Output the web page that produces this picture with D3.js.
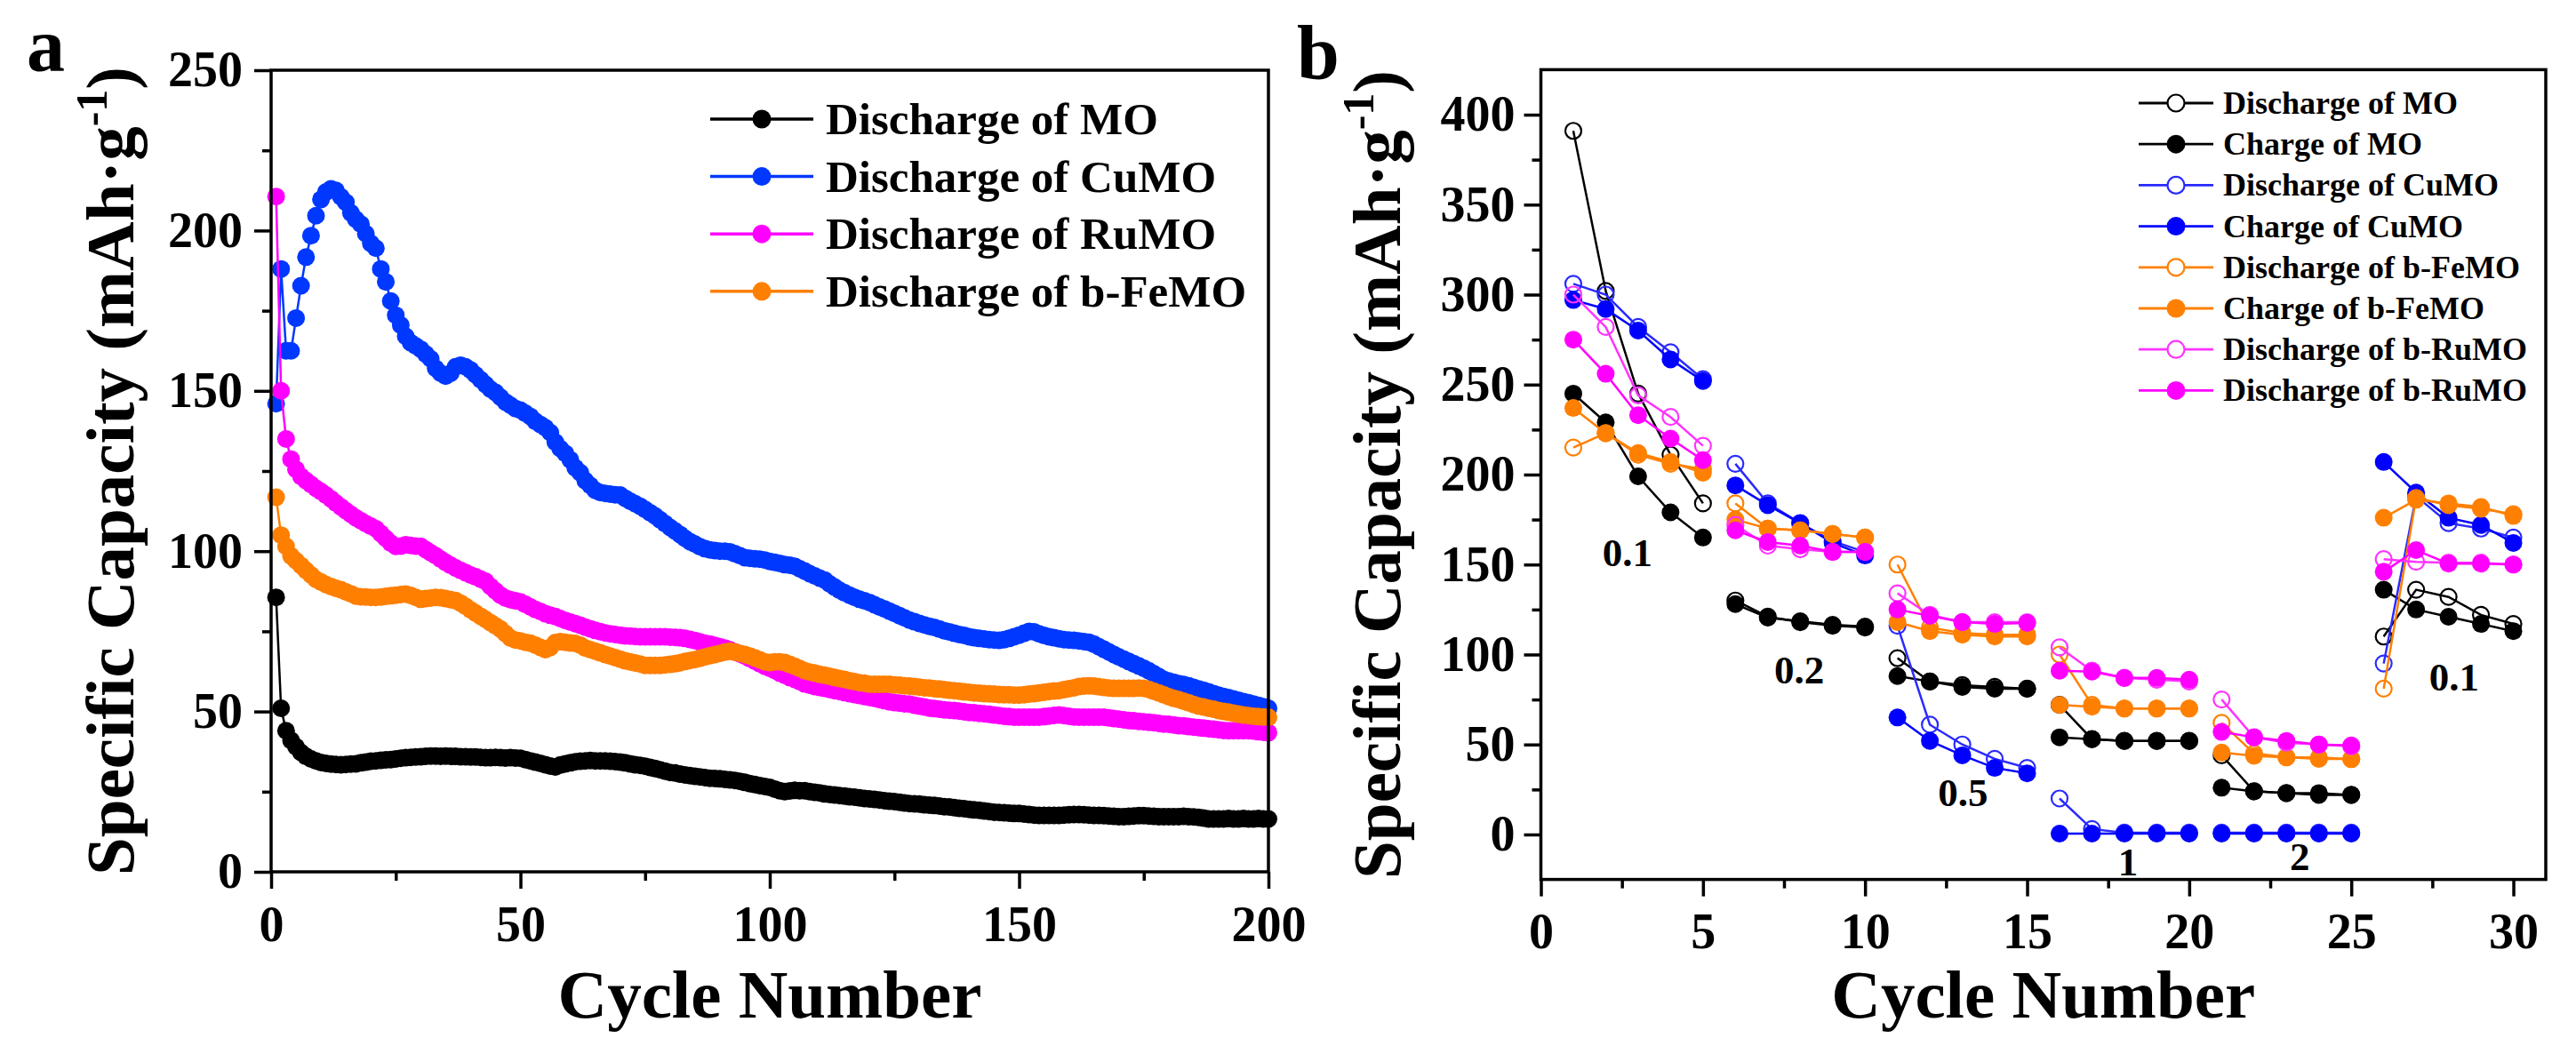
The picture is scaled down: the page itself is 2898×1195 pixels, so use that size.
<!DOCTYPE html>
<html>
<head>
<meta charset="utf-8">
<script src="https://cdn.jsdelivr.net/npm/d3@7"></script>
<style>
  html, body { margin: 0; padding: 0; background: #fff; }
  svg text { font-family: "Liberation Serif", "Times New Roman", serif; font-weight: bold; }
</style>
</head>
<body>
<svg id="chart" width="2898" height="1195"></svg>
<script>
// ---- panel a: long cycling, one value per cycle (1..200) ----
var namesA = ["Discharge of MO", "Discharge of CuMO", "Discharge of RuMO", "Discharge of b-FeMO"];
var colorsA = ["#000000", "#0038ff", "#ff00ff", "#ff7f00"];

var dischargeMO = [
  85.6, 51, 44, 41, 39, 37.2, 36, 35.2, 34.6, 34.1,
  33.8, 33.6, 33.5, 33.4, 33.5, 33.6, 33.7, 34.0, 34.2, 34.5,
  34.6, 34.8, 34.9, 35.0, 35.2, 35.4, 35.6, 35.7, 35.8, 35.9,
  36.0, 36.1, 36.1, 36.0, 36.1, 36.0, 36.0, 35.9, 35.9, 35.8,
  35.8, 35.7, 35.6, 35.6, 35.7, 35.6, 35.5, 35.6, 35.5, 35.4,
  35.0, 34.6, 34.2, 33.8, 33.4, 33.0, 32.7, 33.3, 33.7, 34.0,
  34.3, 34.5, 34.6, 34.7, 34.6, 34.6, 34.6, 34.5, 34.4, 34.2,
  34.0, 33.7, 33.4, 33.2, 32.9, 32.6, 32.2, 31.8, 31.4, 31.0,
  30.8, 30.5, 30.2, 30.0, 29.8, 29.6, 29.4, 29.2, 29.1, 29.0,
  28.8, 28.7, 28.5, 28.2, 27.9, 27.5, 27.2, 26.9, 26.6, 26.3,
  25.8, 25.3, 25.0, 25.2, 25.4, 25.3, 25.3, 25.0, 24.8, 24.6,
  24.3, 24.1, 24.0, 23.8, 23.6, 23.4, 23.3, 23.1, 22.9, 22.7,
  22.6, 22.4, 22.2, 22.0, 21.9, 21.7, 21.5, 21.3, 21.2, 21.1,
  20.9, 20.8, 20.7, 20.5, 20.3, 20.2, 20.0, 19.8, 19.7, 19.5,
  19.3, 19.2, 19.0, 18.8, 18.6, 18.5, 18.4, 18.3, 18.2, 18.2,
  18.0, 17.9, 17.7, 17.6, 17.6, 17.6, 17.6, 17.6, 17.7, 17.8,
  17.9, 17.9, 17.8, 17.7, 17.6, 17.6, 17.5, 17.4, 17.3, 17.2,
  17.2, 17.3, 17.4, 17.5, 17.5, 17.4, 17.3, 17.2, 17.2, 17.2,
  17.2, 17.2, 17.3, 17.2, 17.1, 17.0, 16.8, 16.5, 16.5, 16.5,
  16.5, 16.6, 16.5, 16.5, 16.6, 16.5, 16.5, 16.6, 16.5, 16.5
];

var dischargeCuMO = [
  146, 188, 162.5, 162.5, 172.7, 182.8, 191.7, 198.4, 204.6, 209.7,
  212, 213, 212.5, 210.5, 208.8, 205.5, 203.5, 202, 199, 196,
  194.5, 188, 184, 178, 173.6, 170.5, 167, 165, 164, 163,
  161.5, 160, 157, 155.5, 154.6, 155.5, 157.5, 158, 157.5, 156.5,
  155, 153.5, 152, 150.5, 149.5, 148, 146.5, 145.5, 144.5, 144,
  143, 142, 140.5, 139.5, 138.5, 137, 134, 132, 130.5, 128.5,
  126, 124.5, 122, 120.5, 119, 118.3, 118, 117.8, 117.6, 117.5,
  116.5, 115.6, 114.8, 114, 113, 112, 111, 109.8, 108.6, 107.4,
  106.3, 105.2, 104, 103, 102.2, 101.4, 100.8, 100.4, 100.2, 100,
  100, 99.8, 99.2, 98.6, 98, 97.8, 97.6, 97.5, 97.2, 96.8,
  96.5, 96.2, 95.8, 95.6, 95.3, 94.5, 93.8, 93, 92.3, 91.6,
  91, 89.8, 88.8, 87.8, 87, 86.3, 85.6, 85, 84.5, 84,
  83.3, 82.6, 82, 81.3, 80.6, 79.9, 79.2, 78.5, 78, 77.5,
  77, 76.6, 76.2, 75.7, 75.2, 74.8, 74.4, 74, 73.7, 73.3,
  73, 72.8, 72.6, 72.4, 72.3, 72.2, 72.4, 72.8, 73.3, 73.8,
  74.4, 75, 74.8, 74.2, 73.7, 73.3, 73, 72.7, 72.4, 72.3,
  72.2, 72, 71.8, 71.6, 71, 70.2, 69.4, 68.6, 67.8, 67,
  66.3, 65.6, 64.9, 64.2, 63.5, 62.7, 61.8, 60.9, 60, 59.5,
  59.1, 58.7, 58.4, 58, 57.5, 57, 56.6, 56.1, 55.6, 55.1,
  54.7, 54.3, 53.9, 53.5, 53.1, 52.7, 52.3, 51.9, 51.5, 51
];

var dischargeRuMO = [
  210.6, 150, 135, 128.7, 125.5, 123.3, 122, 120.8, 119.6, 118.6,
  117.5, 116.3, 115, 113.8, 112.6, 111.5, 110.4, 109.5, 108.6, 107.8,
  107, 105.5, 104, 102.5, 101.5, 101.6, 102, 101.8, 101.6, 101.5,
  100.5, 99.5, 98.6, 97.5, 96.5, 95.6, 94.8, 94, 93.3, 92.6,
  92, 91.3, 90.6, 89, 87.6, 86.3, 85.4, 84.9, 84.5, 84.2,
  83.4, 82.6, 81.8, 81.2, 80.5, 80, 79.6, 79, 78.4, 77.9,
  77.4, 76.9, 76.3, 75.8, 75.3, 74.9, 74.5, 74.2, 74, 73.8,
  73.6, 73.5, 73.4, 73.3, 73.3, 73.3, 73.3, 73.3, 73.3, 73.2,
  73.1, 73, 72.8, 72.5, 72.1, 71.7, 71.3, 71, 70.6, 70.2,
  69.8, 69.2, 68.6, 68, 67.3, 66.5, 65.7, 64.9, 64.1, 63.5,
  62.8, 62, 61.3, 60.6, 60, 59.3, 58.6, 58.2, 57.8, 57.5,
  57.2, 56.9, 56.5, 56.2, 55.9, 55.6, 55.3, 55, 54.7, 54.4,
  54.1, 53.7, 53.4, 53, 52.8, 52.6, 52.4, 52.3, 52, 51.7,
  51.4, 51.1, 50.9, 50.7, 50.5, 50.4, 50.3, 50.1, 49.9, 49.7,
  49.6, 49.4, 49.3, 49.1, 48.9, 48.7, 48.5, 48.4, 48.2, 48.2,
  48.2, 48.2, 48.2, 48.2, 48.4, 48.6, 48.8, 48.9, 48.7, 48.5,
  48.3, 48.2, 48.2, 48.2, 48.2, 48.2, 48.2, 48, 47.8, 47.6,
  47.4, 47.2, 47.1, 46.9, 46.8, 46.6, 46.5, 46.3, 46.1, 46,
  45.8, 45.6, 45.5, 45.3, 45.1, 45, 44.8, 44.6, 44.5, 44.3,
  44.1, 44, 44, 44, 44, 44, 43.9, 43.7, 43.5, 43.4
];

var dischargeFeMO = [
  116.8, 105, 101.5, 98.5, 97, 95.5, 94, 92.6, 91.2, 90.4,
  89.6, 89, 88.4, 88, 87.3, 86.7, 86, 85.8, 85.7, 85.6,
  85.6, 85.7, 85.9, 86.1, 86.3, 86.5, 86.6, 86.2, 85.6, 85,
  85.2, 85.4, 85.6, 85.5, 85.2, 84.9, 84.6, 83.8, 82.8, 81.7,
  80.7, 79.7, 78.7, 77.7, 76.7, 75.7, 74.3, 72.9, 72.3, 72,
  71.6, 71.3, 70.7, 70, 69.3, 70, 71.5, 71.8, 71.6, 71.4,
  71.2, 70.7, 69.8, 69.3, 68.8, 68.3, 67.8, 67.3, 66.8, 66.3,
  65.8, 65.5, 65.1, 64.8, 64.4, 64.4, 64.4, 64.4, 64.5, 64.7,
  64.9, 65.2, 65.6, 65.9, 66.2, 66.6, 67, 67.4, 67.8, 68.1,
  68.5, 68.8, 68.5, 68.1, 67.8, 67.3, 66.7, 66.1, 65.5, 65.3,
  65.5, 65.5, 65.3, 64.7, 64.1, 63.4, 62.7, 62.3, 62, 61.6,
  61.3, 61, 60.6, 60.3, 60, 59.6, 59.3, 59, 58.8, 58.5,
  58.5, 58.5, 58.5, 58.5, 58.3, 58.2, 58, 57.9, 57.8, 57.6,
  57.4, 57.3, 57.1, 57, 56.8, 56.6, 56.5, 56.3, 56.1, 56,
  55.8, 55.7, 55.6, 55.5, 55.4, 55.3, 55.2, 55.2, 55.1, 55.1,
  55.2, 55.4, 55.6, 55.8, 56, 56.2, 56.4, 56.5, 56.8, 57.1,
  57.4, 57.8, 57.9, 58, 57.9, 57.7, 57.5, 57.3, 57.2, 57.2,
  57.2, 57.2, 57.2, 57.3, 57.2, 56.9, 56.3, 55.8, 55.2, 54.6,
  54.1, 53.7, 53.2, 52.7, 52.2, 51.7, 51.4, 51, 50.7, 50.3,
  50, 49.8, 49.5, 49.2, 48.9, 48.7, 48.5, 48.4, 48.3, 48.2
];

// ---- panel b: rate test, cycles 1..30, five cycles per current step ----
var namesB = ["Discharge of MO", "Charge of MO", "Discharge of CuMO", "Charge of CuMO",
              "Discharge of b-FeMO", "Charge of b-FeMO", "Discharge of b-RuMO", "Discharge of b-RuMO"];
var colorsB = ["#000000", "#000000", "#2a2aff", "#0000ff", "#ff8000", "#ff8000", "#ff33ff", "#ff00ff"];
var filledB = [false, true, false, true, false, true, false, true];

var rateDischargeMO = [391, 302, 245, 211, 184, 130, 121, 118, 116, 115, 98, 85, 83, 82, 81,
                       72, 53, 52, 52, 52, 44, 24, 23, 22, 22, 110, 136, 132, 122, 117];
var rateChargeMO = [245, 229, 199, 179, 165, 128, 120.5, 118.5, 116.5, 115.5, 88, 85, 82, 81, 81,
                    54, 53, 52, 52, 52, 26, 24, 23, 23, 22, 136, 125, 121, 117, 113];
var rateDischargeCuMO = [306, 300, 282, 268, 253, 206, 184, 173, 163, 157, 116, 61, 50, 42, 37,
                         20, 3, 1, 1, 1, 1, 1, 1, 1, 1, 95, 188, 173, 170, 165];
var rateChargeCuMO = [297, 292, 280, 264, 252, 194, 183, 173, 162, 155, 65, 52, 44, 37, 34,
                      0.5, 0.5, 0.5, 0.5, 0.5, 0.5, 0.5, 0.5, 0.5, 0.5, 207, 190, 176, 172, 162];
var rateDischargeFeMO = [215, 223, 211, 206, 203, 184, 170, 169, 167, 165, 150, 115, 112, 111, 111,
                         100, 72, 70, 70, 70, 62, 45, 43, 42, 42, 81, 187, 183, 181, 178];
var rateChargeFeMO = [237, 223, 212, 207, 201, 175, 170, 169, 167, 165, 118, 113, 111, 110, 110,
                      72, 71, 70, 70, 70, 45.5, 43.7, 42.8, 42.8, 41.8, 176, 186, 184, 182, 177];
var rateDischargeRuMO = [300, 282, 244, 232, 216, 172, 160.5, 158.5, 157, 157, 134, 122, 118, 118, 118,
                         104, 91, 87, 86, 85, 75, 54, 51, 50, 49, 153, 151.5, 151, 151, 150];
var rateDischargeRuMO2 = [275, 256, 233, 220, 208, 169, 162.5, 160.5, 157, 157, 125, 121.5, 118, 117, 117.5,
                          91, 90.5, 87, 87, 86, 57, 54, 52, 50, 49.5, 146, 158, 150.5, 150.5, 150];

// current density labels: [text, cycle, capacity] of the label's left baseline
var rateLabels = [["0.1", 1.9, 149], ["0.2", 7.2, 84], ["0.5", 12.25, 16],
                  ["1", 17.8, -22.5], ["2", 23.1, -20], ["0.1", 27.4, 80]];

var ticksA_x = [0, 50, 100, 150, 200];
var ticksA_y = [0, 50, 100, 150, 200, 250];
var ticksB_x = [0, 5, 10, 15, 20, 25, 30];
var ticksB_y = [0, 50, 100, 150, 200, 250, 300, 350, 400];

var svg = d3.select("#chart");
var AXIS_W = 3.5;

var drawFrame = function (g, x, y, opts) {
    var x0 = x.range()[0], x1 = x.range()[1], y0 = y.range()[0], y1 = y.range()[1];

    var bottom = g.append("g").attr("transform", "translate(0," + y0 + ")");
    bottom.append("g")
        .call(d3.axisBottom(x).tickValues(opts.minorX).tickSize(10).tickFormat(""));
    bottom.append("g")
        .call(d3.axisBottom(x).tickValues(opts.majorX).tickSize(19).tickPadding(19));

    var left = g.append("g").attr("transform", "translate(" + x0 + ",0)");
    left.append("g")
        .call(d3.axisLeft(y).tickValues(opts.minorY).tickSize(10).tickFormat(""));
    left.append("g")
        .call(d3.axisLeft(y).tickValues(opts.majorY).tickSize(19).tickPadding(opts.padY));

    g.selectAll(".domain").remove();
    g.selectAll(".tick line").attr("stroke", "#000").attr("stroke-width", AXIS_W);
    g.selectAll(".tick text")
        .attr("font-size", 56)
        .attr("fill", "#000");

    g.append("rect")
        .attr("x", x0).attr("y", y1)
        .attr("width", x1 - x0).attr("height", y0 - y1)
        .attr("fill", "none")
        .attr("stroke", "#000")
        .attr("stroke-width", AXIS_W);

    // axis titles
    g.append("text")
        .attr("x", (x0 + x1) / 2).attr("y", 1145)
        .attr("text-anchor", "middle")
        .attr("font-size", 77)
        .text("Cycle Number");

    var yt = g.append("text")
        .attr("transform", "translate(" + opts.titleX + "," + ((y0 + y1) / 2) + ") rotate(-90)")
        .attr("text-anchor", "middle")
        .attr("font-size", 77);
    yt.append("tspan").text("Specific Capacity (mAh\u00b7g");
    yt.append("tspan").attr("font-size", 50).attr("dy", -30).text("-1");
    yt.append("tspan").attr("dy", 30).text(")");

    g.append("text")
        .attr("x", opts.letterX).attr("y", opts.letterY)
        .attr("font-size", 86)
        .text(opts.letter);
}

// ---------------- panel a ----------------
var xA = d3.scaleLinear().domain([0, 200]).range([305, 1427]);
var yA = d3.scaleLinear().domain([0, 250]).range([981, 79]);
var gA = svg.append("g");

var seriesA = [dischargeMO, dischargeCuMO, dischargeRuMO, dischargeFeMO];
var lineA = d3.line()
    .x(function (d, i) { return xA(i + 1); })
    .y(function (d) { return yA(d); });

seriesA.forEach(function (values, s) {
    var sg = gA.append("g");
    sg.append("path")
        .attr("d", lineA(values))
        .attr("fill", "none")
        .attr("stroke", colorsA[s])
        .attr("stroke-width", 2.5);
    sg.selectAll("circle")
        .data(values)
        .enter()
        .append("circle")
        .attr("cx", function (d, i) { return xA(i + 1); })
        .attr("cy", function (d) { return yA(d); })
        .attr("r", 10)
        .attr("fill", colorsA[s]);
});

drawFrame(gA, xA, yA, {
    majorX: ticksA_x, minorX: [25, 75, 125, 175],
    majorY: ticksA_y, minorY: [25, 75, 125, 175, 225],
    padY: 13, titleX: 150, letter: "a", letterX: 30, letterY: 80
});

var legA = gA.append("g");
namesA.forEach(function (name, i) {
    var ly = 134 + i * 64.6;
    legA.append("line")
        .attr("x1", 799).attr("x2", 915).attr("y1", ly).attr("y2", ly)
        .attr("stroke", colorsA[i]).attr("stroke-width", 3.5);
    legA.append("circle")
        .attr("cx", 857).attr("cy", ly).attr("r", 10.5)
        .attr("fill", colorsA[i]);
    legA.append("text")
        .attr("x", 929).attr("y", ly + 17)
        .attr("font-size", 51)
        .text(name);
});

// ---------------- panel b ----------------
var xB = d3.scaleLinear().domain([0, 31]).range([1733.5, 2864]);
var yB = d3.scaleLinear().domain([-25, 425]).range([989.6, 78.4]);
var gB = svg.append("g");

var seriesB = [rateDischargeMO, rateChargeMO, rateDischargeCuMO, rateChargeCuMO,
               rateDischargeFeMO, rateChargeFeMO, rateDischargeRuMO, rateDischargeRuMO2];
var lineB = d3.line()
    .x(function (d) { return xB(d.c); })
    .y(function (d) { return yB(d.v); });

seriesB.forEach(function (values, s) {
    var pts = values.map(function (v, i) { return { c: i + 1, v: v }; });
    var steps = d3.range(6).map(function (k) { return pts.slice(k * 5, k * 5 + 5); });
    var sg = gB.append("g");
    sg.selectAll("path")
        .data(steps)
        .enter()
        .append("path")
        .attr("d", lineB)
        .attr("fill", "none")
        .attr("stroke", colorsB[s])
        .attr("stroke-width", 2.5);
    sg.selectAll("circle")
        .data(pts)
        .enter()
        .append("circle")
        .attr("cx", function (d) { return xB(d.c); })
        .attr("cy", function (d) { return yB(d.v); })
        .attr("r", filledB[s] ? 10 : 9)
        .attr("fill", filledB[s] ? colorsB[s] : "none")
        .attr("stroke", colorsB[s])
        .attr("stroke-width", filledB[s] ? 0 : 2.2);
});

gB.selectAll(".rate-label")
    .data(rateLabels)
    .enter()
    .append("text")
    .attr("class", "rate-label")
    .attr("x", function (d) { return xB(d[1]); })
    .attr("y", function (d) { return yB(d[2]); })
    .attr("font-size", 45)
    .text(function (d) { return d[0]; });

drawFrame(gB, xB, yB, {
    majorX: ticksB_x, minorX: [2.5, 7.5, 12.5, 17.5, 22.5, 27.5],
    majorY: ticksB_y, minorY: [25, 75, 125, 175, 225, 275, 325, 375],
    padY: 10, titleX: 1575, letter: "b", letterX: 1459, letterY: 88
});

var legB = gB.append("g");
namesB.forEach(function (name, i) {
    var ly = 116 + i * 46.2;
    legB.append("line")
        .attr("x1", 2406).attr("x2", 2490).attr("y1", ly).attr("y2", ly)
        .attr("stroke", colorsB[i]).attr("stroke-width", 2.8);
    legB.append("circle")
        .attr("cx", 2448).attr("cy", ly).attr("r", filledB[i] ? 10.5 : 9.5)
        .attr("fill", filledB[i] ? colorsB[i] : "#fff")
        .attr("stroke", colorsB[i])
        .attr("stroke-width", filledB[i] ? 0 : 2.2);
    legB.append("text")
        .attr("x", 2501).attr("y", ly + 12)
        .attr("font-size", 36)
        .text(name);
});
</script>
</body>
</html>
